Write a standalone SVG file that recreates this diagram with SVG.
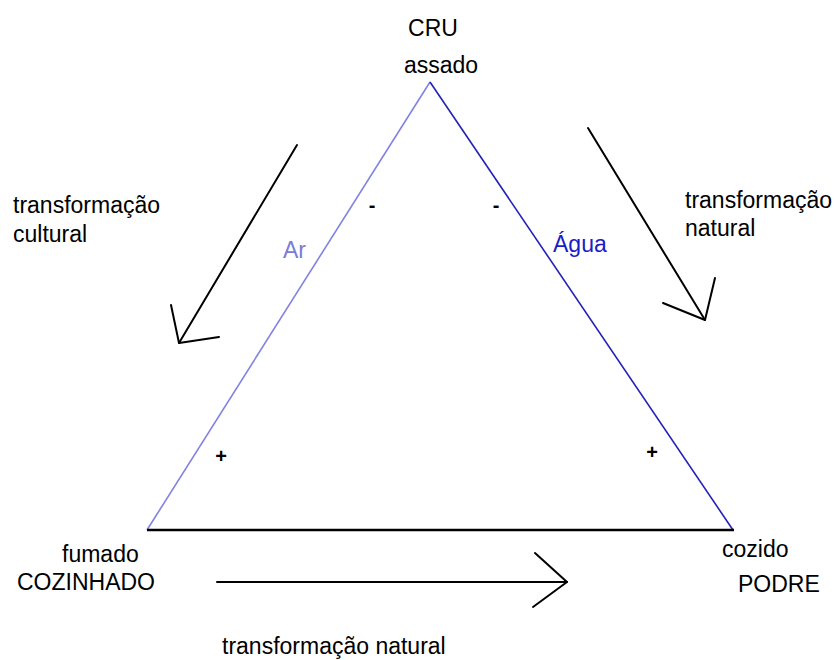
<svg xmlns="http://www.w3.org/2000/svg" width="835" height="660" viewBox="0 0 835 660">
<style>
text{font-family:"Liberation Sans",Arial,sans-serif;font-size:23px;fill:#000}
.ar{fill:#7b7bdc}
.agua{fill:#1c1cc8}
.arrow{stroke:#000;stroke-width:2;fill:none;stroke-linecap:round;stroke-linejoin:round}
.sign{font-size:20px;font-weight:bold}
</style>
<rect width="835" height="660" fill="#fff"/>
<g id="connectors">
  <line id="side-ar" x1="430" y1="82" x2="147" y2="530" stroke="#8282e2" stroke-width="1.6"/>
  <line id="side-agua" x1="430" y1="82" x2="733" y2="530" stroke="#2222b8" stroke-width="1.6"/>
  <line id="base" x1="147" y1="530" x2="734" y2="530" stroke="#000" stroke-width="2.5"/>
  <g id="arrow-cultural" class="arrow">
    <line x1="297" y1="145" x2="179" y2="343"/>
    <polyline points="171,305 179,343 219,337"/>
  </g>
  <g id="arrow-natural-right" class="arrow">
    <line x1="588" y1="128" x2="705" y2="320"/>
    <polyline points="715,278 705,320 663,303"/>
  </g>
  <g id="arrow-natural-bottom" class="arrow">
    <line x1="217" y1="582" x2="567" y2="582"/>
    <polyline points="535,553 567,582 533,607"/>
  </g>
</g>
<g id="node-cru">
  <text x="433" y="36" text-anchor="middle">CRU</text>
  <text x="441" y="73" text-anchor="middle">assado</text>
</g>
<g id="node-cozinhado">
  <text x="62" y="562">fumado</text>
  <text x="17" y="590">COZINHADO</text>
</g>
<g id="node-podre">
  <text x="722" y="557">cozido</text>
  <text x="738" y="592">PODRE</text>
</g>
<g id="labels">
  <text x="13" y="213">transformação</text>
  <text x="13" y="242">cultural</text>
  <text x="685" y="208">transformação</text>
  <text x="685" y="236">natural</text>
  <text x="222" y="654">transformação natural</text>
  <text class="ar" x="283" y="258">Ar</text>
  <text class="agua" x="553" y="252">Água</text>
  <text class="sign" x="372" y="212" text-anchor="middle">-</text>
  <text class="sign" x="496" y="212" text-anchor="middle">-</text>
  <text class="sign" x="221" y="463" text-anchor="middle">+</text>
  <text class="sign" x="652" y="459" text-anchor="middle">+</text>
</g>
</svg>
